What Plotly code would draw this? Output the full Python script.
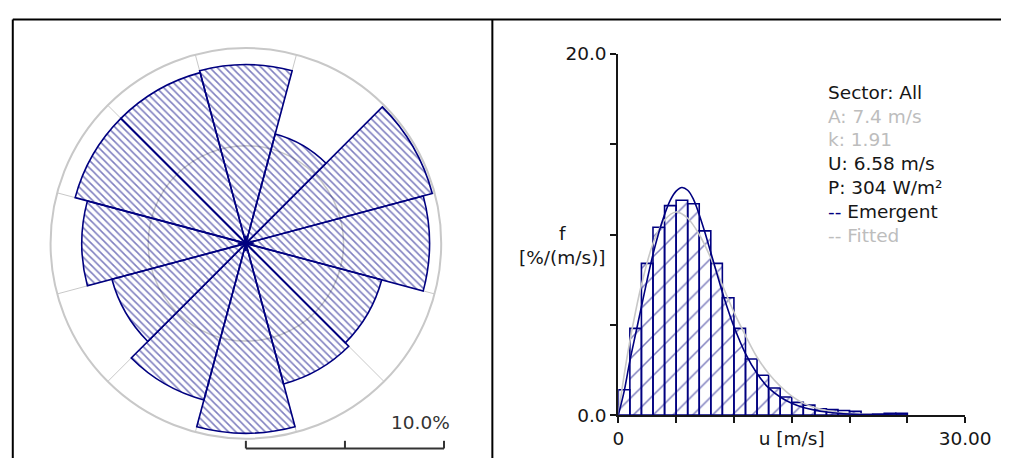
import plotly.graph_objects as go

# ---------------- data ----------------
# Wind rose: 12 sectors, frequency in %
sector_dirs = [0, 30, 60, 90, 120, 150, 180, 210, 240, 270, 300, 330]
sector_freq = [9.15, 5.8, 9.88, 9.4, 7.2, 7.45, 9.72, 8.3, 7.1, 8.4, 9.05, 9.05]
sector_width = 30
rose_grid_pct = [5, 10]
rose_scale_label = "10.0%"

# Histogram: 1 m/s bins, left edges, frequency in %/(m/s)
bin_left = list(range(0, 25))
bin_freq = [1.4, 4.8, 8.4, 10.4, 11.6, 11.9, 11.7, 10.2, 8.4, 6.5,
            4.8, 3.1, 2.2, 1.5, 1.0, 0.7, 0.55, 0.35, 0.3, 0.25,
            0.2, 0.03, 0.05, 0.1, 0.1]

# Emergent distribution (dark blue line)
emer_u = [0, 0.5, 1, 1.5, 2, 2.5, 3, 3.5, 4, 4.5, 5, 5.5, 6, 6.5, 7, 7.5, 8,
          8.5, 9, 9.5, 10, 11, 12, 13, 14, 15, 16, 17, 18, 19, 20, 22, 25]
emer_f = [0, 1.3, 3.0, 4.5, 6.0, 7.5, 8.9, 10.1, 11.1, 11.9, 12.4, 12.6, 12.45,
          11.95, 11.1, 10.1, 9.0, 7.9, 6.8, 5.8, 4.9, 3.4, 2.3, 1.5, 1.0, 0.65,
          0.42, 0.27, 0.17, 0.1, 0.06, 0.02, 0]

# Fitted Weibull (grey line)
fit_u = [0, 0.5, 1, 1.5, 2, 3, 4, 5, 6, 7, 8, 9, 10, 11, 12, 13, 14, 15, 16,
         17, 18, 19, 20, 22, 24]
fit_f = [0, 2.2, 4.1, 5.75, 7.2, 9.5, 10.8, 11.25, 10.9, 10.0, 8.7, 7.2, 5.7,
         4.4, 3.2, 2.3, 1.6, 1.05, 0.66, 0.41, 0.25, 0.14, 0.08, 0.02, 0.005]

x_ticks = [0, 5, 10, 15, 20, 25, 30]
x_ticktext = ["0", "", "", "u [m/s]", "", "", "30.00"]
y_ticks = [0, 5, 10, 15, 20]
y_ticktext = ["0.0", "", "", "", "20.0"]
y_title = "f<br>[%/(m/s)]"

legend_lines = [
    ("Sector: All", "dark"),
    ("A: 7.4 m/s", "grey"),
    ("k: 1.91", "grey"),
    ("U: 6.58 m/s", "dark"),
    ("P: 304 W/m²", "dark"),
    ("<span style='color:#000080'>--</span> Emergent", "dark"),
    ("-- Fitted", "grey"),
]

# ---------------- styles / layout constants ----------------
W, H = 1027, 468
NAVY = "#000080"
GRID = "#c8c8c8"
DARK = "#161616"
LGREY = "#bdbdbd"
CLEAR = "rgba(0,0,0,0)"
FONT = "DejaVu Sans"
FS = 18.5

ROSE_CX, ROSE_CY, ROSE_R = 247.6, 243.3, 204.5   # px
ROSE_RMAX = 10.0
HX0, HX1 = 632, 990     # histogram x-axis pixel extent
HY0, HY1 = 423, 45      # histogram y-axis pixel extent (bottom, top)


def fx(px):
    return px / W


def fy(py):
    return 1 - py / H


fig = go.Figure()

# Wind rose (hatched, transparent so the 5 % ring shows through)
fig.add_trace(go.Barpolar(
    r=sector_freq, theta=sector_dirs, width=[sector_width] * len(sector_dirs),
    marker=dict(color=CLEAR,
                pattern=dict(shape="\\", fgcolor=NAVY, bgcolor=CLEAR,
                             size=5.2, solidity=0.3),
                line=dict(color=NAVY, width=1.6)),
    subplot="polar", showlegend=False, hoverinfo="skip"))

# small centre cross
fig.add_trace(go.Scatterpolar(
    r=[0], theta=[0], mode="markers",
    marker=dict(symbol="cross-thin-open", size=11,
                line=dict(color=NAVY, width=2), color=NAVY),
    subplot="polar", showlegend=False, hoverinfo="skip"))

# Histogram bars
fig.add_trace(go.Bar(
    x=[b + 0.5 for b in bin_left], y=bin_freq, width=1,
    marker=dict(color=CLEAR,
                pattern=dict(shape="/", fgcolor=NAVY, bgcolor=CLEAR,
                             size=14, solidity=0.11),
                line=dict(color=NAVY, width=1.6)),
    xaxis="x", yaxis="y", showlegend=False, hoverinfo="skip"))

fig.add_trace(go.Scatter(
    x=fit_u, y=fit_f, mode="lines",
    line=dict(color=GRID, width=1.6, shape="spline"),
    xaxis="x", yaxis="y", showlegend=False, hoverinfo="skip"))

fig.add_trace(go.Scatter(
    x=emer_u, y=emer_f, mode="lines",
    line=dict(color=NAVY, width=1.6, shape="spline"),
    xaxis="x", yaxis="y", showlegend=False, hoverinfo="skip"))

tickfont = dict(family=FONT, size=FS, color=DARK)

fig.update_layout(
    width=W, height=H,
    margin=dict(l=0, r=0, t=0, b=0),
    paper_bgcolor="white", plot_bgcolor="white",
    font=dict(family=FONT, size=FS, color=DARK),
    hovermode=False,
    polar=dict(
        domain=dict(x=[fx(ROSE_CX - ROSE_R), fx(ROSE_CX + ROSE_R)],
                    y=[fy(ROSE_CY + ROSE_R), fy(ROSE_CY - ROSE_R)]),
        bgcolor="white",
        radialaxis=dict(range=[0, ROSE_RMAX], tickvals=rose_grid_pct[:-1],
                        showticklabels=False, ticks="", showline=False,
                        gridcolor=GRID, gridwidth=1.5, layer="below traces"),
        angularaxis=dict(rotation=90, direction="clockwise",
                         tickvals=[d + sector_width / 2 for d in sector_dirs],
                         showticklabels=False, ticks="",
                         showline=True, linecolor=GRID, linewidth=2,
                         gridcolor=GRID, gridwidth=1, layer="below traces"),
    ),
    xaxis=dict(domain=[fx(HX0), fx(HX1)], range=[0, 30], anchor="y",
               showline=True, linecolor=DARK, linewidth=2,
               ticks="outside", ticklen=6, tickwidth=2, tickcolor=DARK,
               tickvals=x_ticks, ticktext=x_ticktext, tickfont=tickfont,
               showgrid=False, zeroline=False, fixedrange=True),
    yaxis=dict(domain=[fy(HY0), fy(HY1)], range=[0, 20], anchor="x",
               showline=True, linecolor=DARK, linewidth=2,
               ticks="outside", ticklen=6, tickwidth=2, tickcolor=DARK,
               tickvals=y_ticks, ticktext=y_ticktext, tickfont=tickfont,
               showgrid=False, zeroline=False, fixedrange=True),
)

# Frame lines
shapes = [
    dict(type="line", xref="paper", yref="paper",
         x0=fx(7), x1=1, y0=fy(9), y1=fy(9), line=dict(color="black", width=2)),
    dict(type="line", xref="paper", yref="paper",
         x0=fx(7), x1=fx(7), y0=fy(9), y1=0, line=dict(color="black", width=2)),
    dict(type="line", xref="paper", yref="paper",
         x0=fx(502), x1=fx(502), y0=fy(9), y1=0, line=dict(color="black", width=2)),
]
# Rose scale bar (length = ROSE_RMAX on the radial scale)
bar_y = 458
sx0, sx1 = ROSE_CX, ROSE_CX + ROSE_R
shapes.append(dict(type="line", xref="paper", yref="paper",
                   x0=fx(sx0), x1=fx(sx1), y0=fy(bar_y), y1=fy(bar_y),
                   line=dict(color="#333333", width=2)))
for frac in (0, 0.5, 1):
    xx = sx0 + frac * (sx1 - sx0)
    shapes.append(dict(type="line", xref="paper", yref="paper",
                       x0=fx(xx), x1=fx(xx), y0=fy(bar_y), y1=fy(bar_y - 8),
                       line=dict(color="#333333", width=2)))
fig.update_layout(shapes=shapes)

annotations = [
    dict(text=rose_scale_label, xref="paper", yref="paper",
         x=fx(sx1 + 8), y=fy(431), xanchor="right", yanchor="middle",
         showarrow=False, font=dict(family=FONT, size=FS, color="#333333")),
    dict(text=y_title, xref="paper", yref="paper",
         x=fx(574), y=fy(246), xanchor="center", yanchor="middle",
         showarrow=False, align="center",
         font=dict(family=FONT, size=FS, color=DARK)),
]
for i, (txt, tone) in enumerate(legend_lines):
    annotations.append(dict(
        text=txt, xref="paper", yref="paper",
        x=fx(846), y=fy(85 + 25 * i), xanchor="left", yanchor="middle",
        showarrow=False,
        font=dict(family=FONT, size=FS, color=DARK if tone == "dark" else LGREY)))
fig.update_layout(annotations=annotations)

fig.write_html(
    "out.html",
    config={"displayModeBar": False, "staticPlot": True},
    post_script="document.body.style.margin='0';"
                "document.documentElement.style.overflow='hidden';"
                "document.body.style.overflow='hidden';")
